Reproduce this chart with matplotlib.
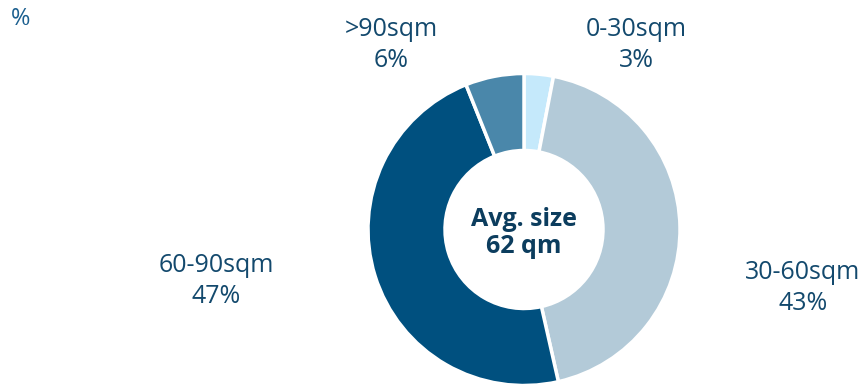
import matplotlib.pyplot as plt

# Apartment size distribution
labels = ['0-30sqm', '30-60sqm', '60-90sqm', '>90sqm']
shares = [3, 43, 47, 6]
colors = ['#c5e9fb', '#b3cad8', '#00507f', '#4a87aa']

# label anchor points (pixels, from top-left)
label_pos = [(636, 45), (803, 288), (216, 281), (391, 45)]

text_color = '#13496d'
plt.rcParams['font.family'] = ['Open Sans', 'DejaVu Sans']

W, H = 867, 388
fig = plt.figure(figsize=(W / 100, H / 100), dpi=100)
ax = fig.add_axes([0, 0, 1, 1])

# y axis is inverted, so counterclock=True runs clockwise on screen
ax.pie(shares, colors=colors, startangle=-90, counterclock=True,
       center=(524, 229.5), radius=156, frame=True,
       wedgeprops=dict(width=77, edgecolor='white', linewidth=2.5))
ax.set_xlim(0, W)
ax.set_ylim(H, 0)
ax.set_aspect('equal')
ax.axis('off')

for lab, val, (x, y) in zip(labels, shares, label_pos):
    ax.text(x, y, f'{lab}\n{val}%', ha='center', va='center',
            fontsize=18, color=text_color, linespacing=1.3)

ax.text(524, 233, 'Avg. size\n62 qm', ha='center', va='center',
        fontsize=18, fontweight='bold', color='#0c3d5e', linespacing=1.15)

ax.text(11, 19, '%', ha='left', va='center', fontsize=17, color='#1b5f8f')

fig.savefig('out.png', dpi=100)
